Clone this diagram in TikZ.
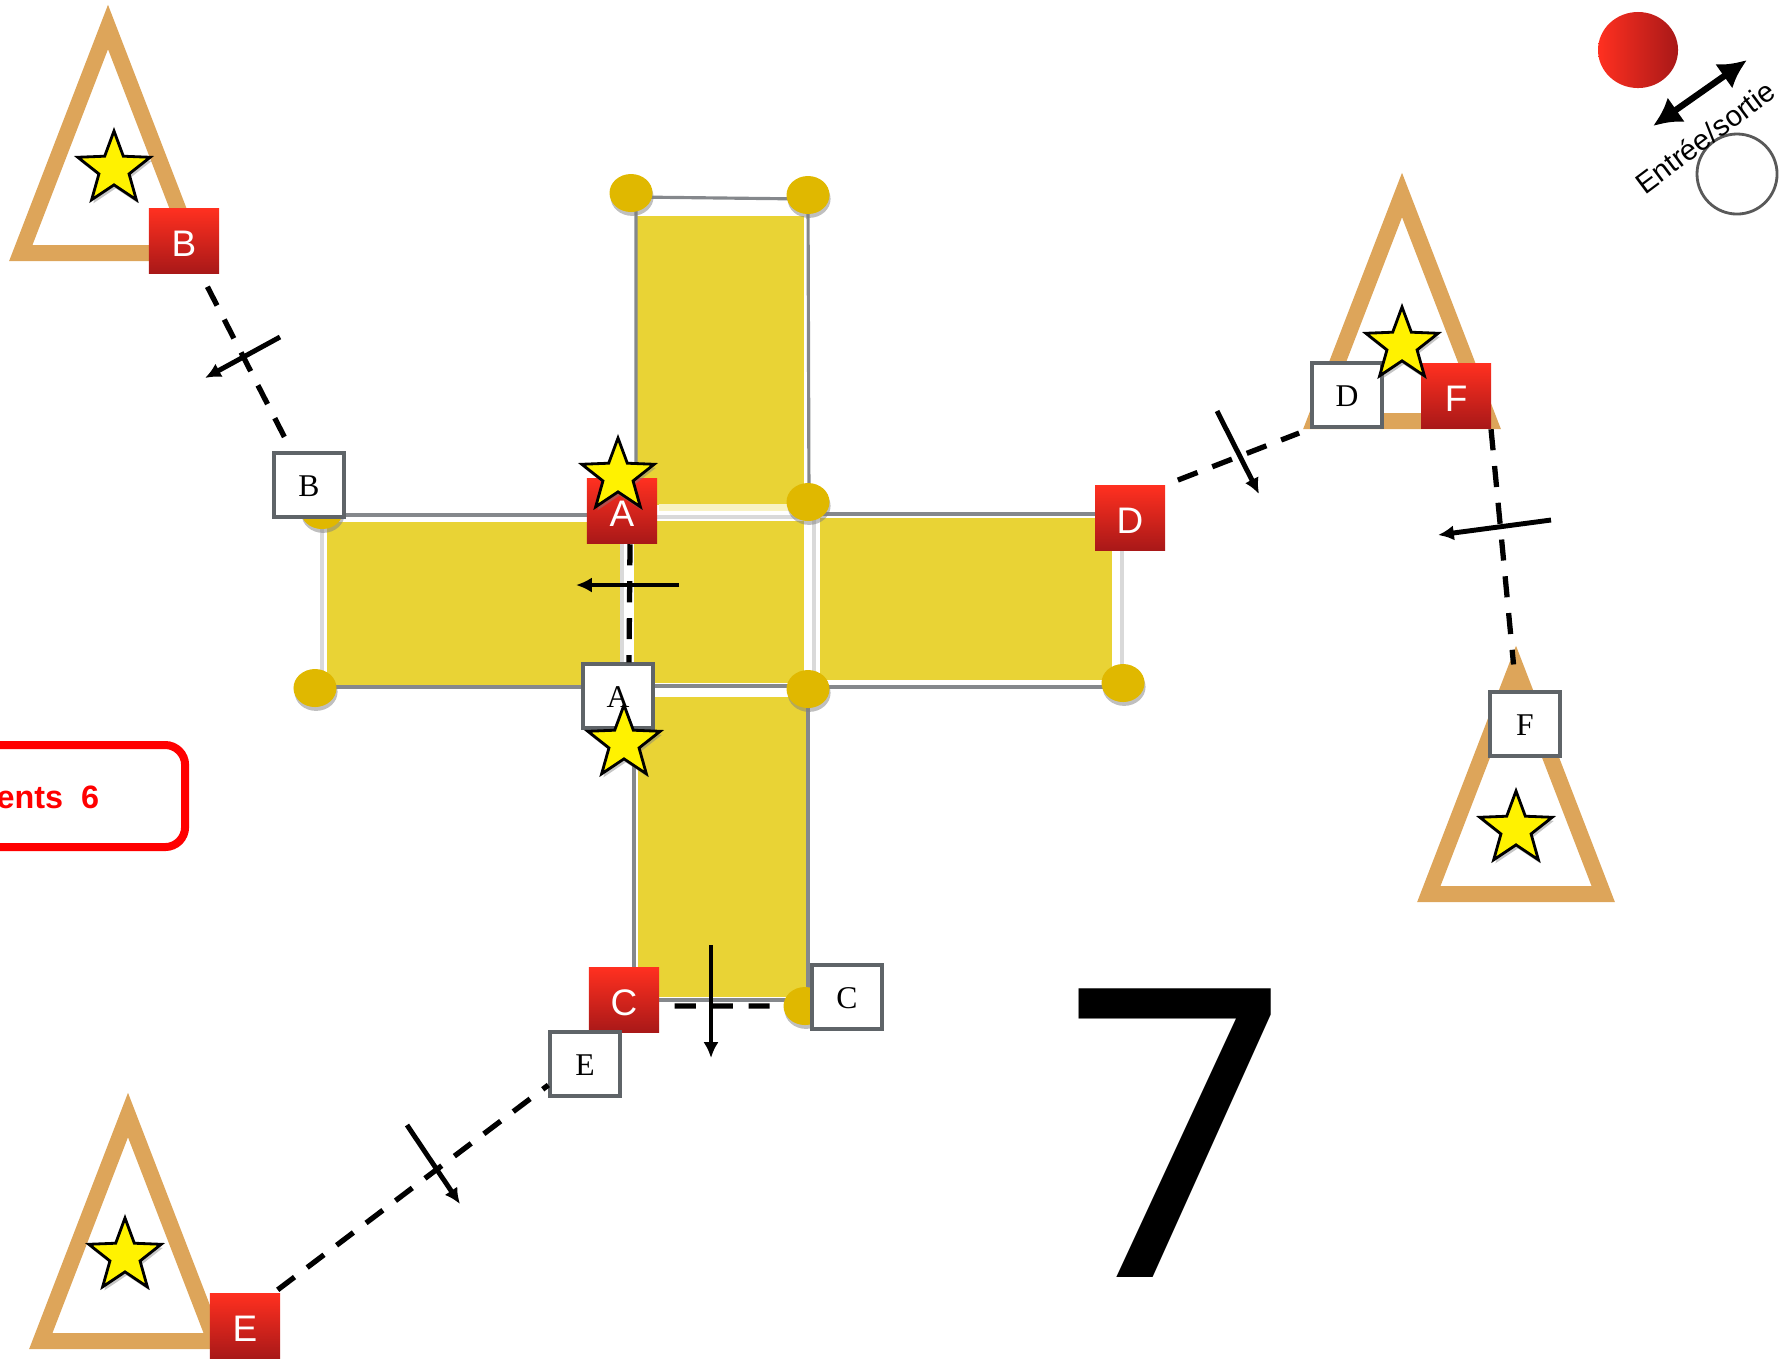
\documentclass[tikz,border=0pt]{standalone}
\usepackage{fontspec}
\setmainfont{Liberation Serif}
\setsansfont{Liberation Sans}
\newfontfamily\bigfont{Open Sans}
\usetikzlibrary{arrows.meta,positioning,shapes.geometric,shadows}
\definecolor{gold}{HTML}{E0B800}
\definecolor{tan1}{HTML}{DDA55A}
\definecolor{mat}{HTML}{E9D335}
\definecolor{edge}{HTML}{85888C}
\definecolor{boxedge}{HTML}{5F6468}
\definecolor{redtop}{HTML}{FF3020}
\definecolor{redbot}{HTML}{A81818}
\begin{document}
\begin{tikzpicture}[
  x=0.01cm, y=-0.01cm, >={Latex[length=4.5pt,width=4.3pt]},
  dot/.style={ellipse, fill=gold, minimum width=0.43cm, minimum height=0.38cm, inner sep=0pt,
              drop shadow={shadow xshift=0.3pt, shadow yshift=-1.1pt, opacity=.5}},
  redbox/.style={rectangle, top color=redtop, bottom color=redbot, text=white, font=\sffamily\fontsize{10.5}{12}\selectfont,
                 minimum width=0.70cm, minimum height=0.65cm, inner sep=0pt, text height=8.8pt},
  whitebox/.style={rectangle, draw=boxedge, line width=0.95pt, fill=white, font=\fontsize{9}{11}\selectfont,
                   minimum width=0.70cm, minimum height=0.64cm, inner sep=0pt, text height=6.6pt},
  hut/.style={isosceles triangle, isosceles triangle apex angle=42.2, shape border rotate=90, anchor=apex,
              draw=tan1, line width=0.16cm, minimum height=2.26cm, inner sep=0pt, outer sep=0pt},
  mark5/.style={star, star points=5, star point ratio=2.4, fill=yellow, draw=black, line width=0.8pt,
                minimum size=0.76cm, inner sep=0pt,
                drop shadow={shadow xshift=0.5pt, shadow yshift=-1pt, opacity=.45}},
  link/.style={line width=1.5pt, dash pattern=on 6pt off 4.5pt},
  tick/.style={->, line width=1.4pt},
  edgeline/.style={draw=edge, line width=0.9pt},
  paleline/.style={draw=black!15, line width=1pt},
]
  \useasboundingbox (0,0) rectangle (1786,1359);

  \fill[mat] (636,216) rectangle (804,505);
  \fill[mat] (327,522) rectangle (622,686);
  \fill[mat] (634,521) rectangle (804,683);
  \fill[mat] (820,518) rectangle (1112,680);
  \fill[mat] (638,697) rectangle (807,997);

  \draw[edgeline] (636,505) -- (636,197) -- (808,199) -- (809,505);
  \draw[paleline] (590,515) -- (322,515) -- (322,687);
  \draw[edgeline] (322,515) -- (590,515);
  \draw[edgeline, line width=1.1pt] (322,687) -- (590,687);
  \draw[paleline] (622,522) -- (622,686);
  \draw[draw=mat!30, line width=2pt] (659,507) -- (790,507);
  \draw[paleline] (634,517) -- (804,517);
  \draw[edgeline] (640,686) -- (815,686);
  \draw[paleline] (814,515) -- (814,686);
  \draw[edgeline] (808,514) -- (1122,514);
  \draw[edgeline] (808,687) -- (1122,687);
  \draw[paleline] (1122,514) -- (1122,687);
  \draw[edgeline] (634,697) -- (634,1000) -- (808,1000) -- (808,697);

  \node[dot] (dota) at (631,193) {};
  \node[dot] (dotb) at (808,195) {};
  \node[dot] (dotc) at (808,502) {};
  \node[dot] (dotd) at (322,510) {};
  \node[dot] (dote) at (315,688) {};
  \node[dot] (dotf) at (808,689) {};
  \node[dot] (dotg) at (1123,683) {};
  \node[dot] (doth) at (805,1006) {};

  \node[hut] (hutb) at (108,27) {};
  \node[hut] (hutd) at (1402,195) {};
  \node[hut] (hutf) at (1516,668) {};
  \node[hut] (hute) at (128,1115) {};

  \node[mark5] (starb) at (114,169) {};
  \node[mark5] (stare) at (125,1256) {};
  \node[mark5] (starf) at (1516,829) {};

  \node[redbox] (redb) at (184,241) {B};
  \node[redbox] (reda) at (622,511) {A};
  \node[redbox] (redd) at (1130,518) {D};
  \node[redbox] (redf) at (1456,396) {F};
  \node[redbox] (redc) at (624,1000) {C};
  \node[redbox] (rede) at (245,1326) {E};

  \node[whitebox] (whiteb) at (309,485) {B};
  \node[whitebox] (whitea) at (618,696) {A};
  \node[whitebox] (whited) at (1347,395) {D};
  \node[whitebox] (whitef) at (1525,724) {F};
  \node[whitebox] (whitec) at (847,997) {C};
  \node[whitebox] (whitee) at (585,1064) {E};

  \node[mark5] (stara) at (618,476) {};
  \node[mark5] (starc) at (624,743) {};
  \node[mark5] (stard) at (1402,345) {};

  \draw[link, shorten <=0.14cm, shorten >=0.05cm] (redb) -- (whiteb);
  \draw[link] ([xshift=0.08cm]reda.south) -- ([xshift=0.11cm]whitea.north);
  \draw[link, shorten <=0.15cm, shorten >=0.38cm] ([yshift=-0.06cm]redc.east) -- ([yshift=-0.09cm]whitec.west);
  \draw[link, shorten <=0.13cm, shorten >=0.12cm] (redd.north east) -- (whited.south west);
  \draw[link, shorten <=0.05cm] ([xshift=-0.07cm]rede.north east) -- ([yshift=-0.21cm]whitee.west);
  \draw[link, shorten >=0.26cm] ([xshift=0.35cm]redf.south) -- ([xshift=-0.09cm]whitef.north);

  \coordinate (ticka1) at (679,585);
  \coordinate (ticka2) at (576,585);
  \coordinate (tickb1) at (280,337);
  \coordinate (tickb2) at (205,378);
  \coordinate (tickc1) at (711,945);
  \coordinate (tickc2) at (711,1058);
  \coordinate (tickd1) at (1217,411);
  \coordinate (tickd2) at (1259,494);
  \coordinate (ticke1) at (407,1125);
  \coordinate (ticke2) at (460,1204);
  \coordinate (tickf1) at (1551,520);
  \coordinate (tickf2) at (1438,535);
  \draw[tick] (ticka1) -- (ticka2);
  \draw[tick] (tickb1) -- (tickb2);
  \draw[tick] (tickc1) -- (tickc2);
  \draw[tick] (tickd1) -- (tickd2);
  \draw[tick] (ticke1) -- (ticke2);
  \draw[tick] (tickf1) -- (tickf2);

  \node[draw=red, line width=0.08cm, rounded corners=0.2cm, fill=white, minimum width=3.8cm, minimum height=1.02cm,
        inner sep=0pt, drop shadow={shadow xshift=0.8pt, shadow yshift=-0.8pt, opacity=.45}] (countbox) at (-5,796) {};
  \node[anchor=west, inner sep=0pt, text=red, font=\sffamily\bfseries\fontsize{9.2}{11}\selectfont] (count) at (-4,797) {ents\ \ 6};

  \node[font=\bigfont\fontsize{115}{115}\selectfont, inner sep=0pt] (bignum) at (1176,1133) {7};

  \node[ellipse, left color=redtop, right color=redbot, minimum width=0.80cm, minimum height=0.76cm, inner sep=0pt] (legenda) at (1638,50) {};
  \node[circle, draw=black!65, line width=0.8pt, minimum size=0.80cm, inner sep=0pt] (legendb) at (1737,174) {};
  \node[rotate=36.8, font=\sffamily\fontsize{8.3}{10}\selectfont, inner sep=0pt] (legendt) at (1705,137) {Entrée/sortie};
  \coordinate (legend1) at (1653,126);
  \coordinate (legend2) at (1747,60);
  \draw[{Latex[length=8pt,width=8.5pt]}-{Latex[length=8pt,width=8.5pt]}, line width=1.8pt] (legend1) -- (legend2);
\end{tikzpicture}
\end{document}
